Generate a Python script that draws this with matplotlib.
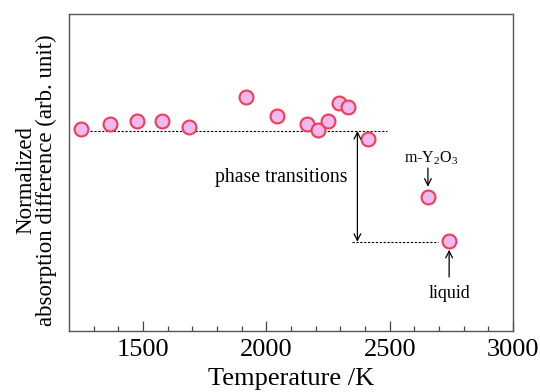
import matplotlib
matplotlib.use('Agg')
import matplotlib.pyplot as plt

plt.rcParams['font.family'] = ['Liberation Serif', 'DejaVu Serif']
plt.rcParams['mathtext.fontset'] = 'custom'
plt.rcParams['mathtext.rm'] = 'Liberation Serif'
plt.rcParams['mathtext.default'] = 'regular'

# 温度 (K) 与归一化吸收差 (任意单位)
temperature = [1249, 1366, 1477, 1577, 1686, 1916, 2042, 2164, 2208,
               2251, 2296, 2332, 2411, 2657, 2742]
absorption = [0.636, 0.652, 0.662, 0.662, 0.644, 0.739, 0.678, 0.653, 0.634,
              0.663, 0.718, 0.706, 0.605, 0.424, 0.285]

solid_level = 0.631
liquid_level = 0.281
x_ticks = [1500, 2000, 2500, 3000]

fig = plt.figure(figsize=(5.4, 3.92), dpi=100)
ax = fig.add_axes([0.128, 0.156, 0.822, 0.808])

# 参考虚线
ax.plot([1285, 2490], [solid_level, solid_level], ls=(0, (2, 1.5)), color='black', lw=0.8)
ax.plot([2346, 2696], [liquid_level, liquid_level], ls=(0, (2, 1.5)), color='black', lw=0.8)

# 数据点
ax.plot(temperature, absorption, 'o', ms=10, mfc='#f2b8f0', mec='#ef3d55', mew=1.5,
        zorder=3)

# 相变箭头
ax.annotate('', xy=(2369, liquid_level), xytext=(2369, solid_level),
            arrowprops=dict(arrowstyle='<->', color='black', lw=0.9,
                            mutation_scale=12, shrinkA=0, shrinkB=0))
ax.text(2059, 0.483, 'phase transitions', ha='center', va='center', fontsize=14.2)

ax.annotate('', xy=(2655, 0.455), xytext=(2655, 0.514),
            arrowprops=dict(arrowstyle='->', color='black', lw=0.9,
                            mutation_scale=12, shrinkA=0, shrinkB=0))
ax.text(2670, 0.546, 'm-Y$_2$O$_3$', ha='center', va='center', fontsize=11.5)

ax.annotate('', xy=(2741, 0.256), xytext=(2741, 0.170),
            arrowprops=dict(arrowstyle='->', color='black', lw=0.9,
                            mutation_scale=12, shrinkA=0, shrinkB=0))
ax.text(2741, 0.118, 'liquid', ha='center', va='center', fontsize=13)

ax.set_xlim(1200, 3000)
ax.set_ylim(0, 1)
ax.set_xticks(x_ticks)
ax.set_xticks(range(1300, 3000, 100), minor=True)
ax.set_yticks([])
ax.tick_params(axis='x', which='major', direction='in', length=7, width=0.9,
               labelsize=19, pad=6, colors='#444444', labelcolor='black')
ax.tick_params(axis='x', which='minor', direction='in', length=3.5, width=0.9,
               colors='#444444')
for s in ax.spines.values():
    s.set_color('#555555')
    s.set_linewidth(1.0)

ax.set_xlabel('Temperature /K', fontsize=19, labelpad=5)
ax.set_ylabel('Normalized\nabsorption difference (arb. unit)', fontsize=16.5,
              labelpad=9, linespacing=0.95, y=0.475)

fig.savefig('out.png', dpi=100)
